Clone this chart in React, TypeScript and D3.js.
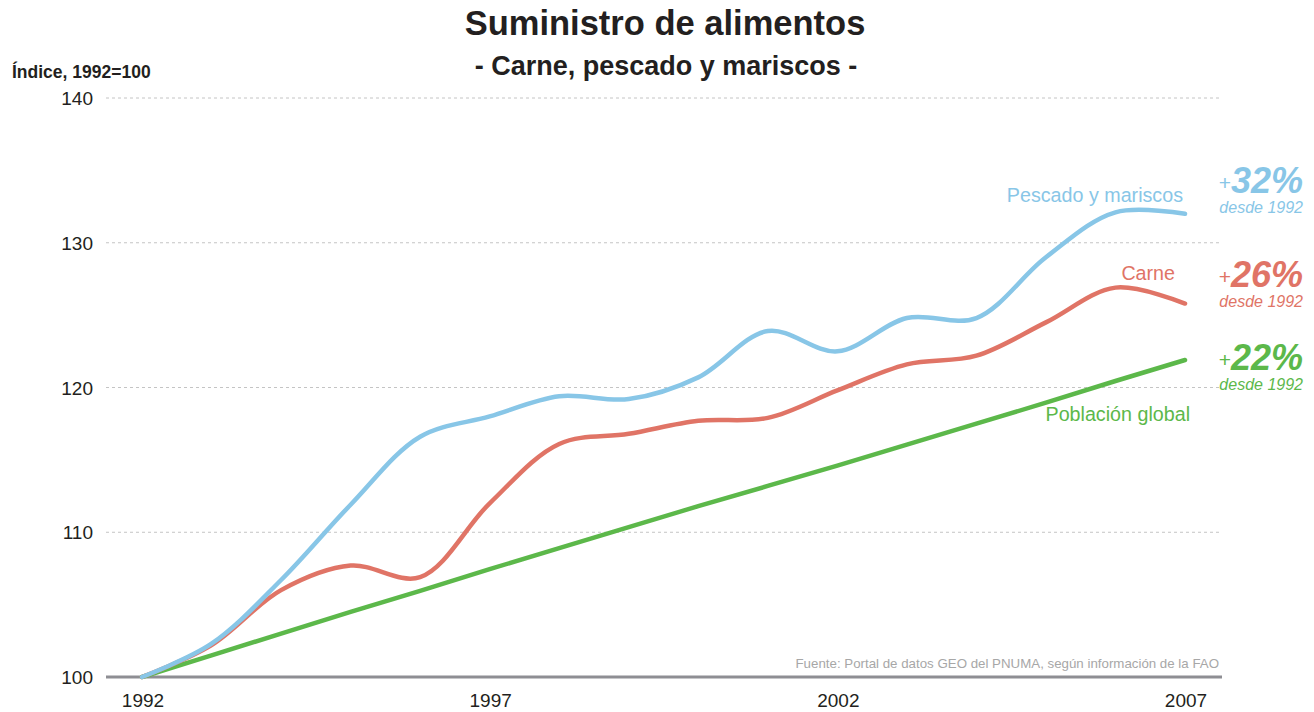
import React from "react";
import * as d3 from "d3";

const years = [1992, 1993, 1994, 1995, 1996, 1997, 1998, 1999, 2000, 2001, 2002, 2003, 2004, 2005, 2006, 2007];
const pescado = [100, 102.3, 106.7, 111.9, 116.6, 118.0, 119.4, 119.2, 120.7, 123.9, 122.5, 124.8, 124.8, 129.0, 132.1, 132.0];
const carne = [100, 102.2, 106.0, 107.7, 106.9, 112.0, 116.1, 116.8, 117.7, 117.9, 119.8, 121.6, 122.2, 124.5, 126.9, 125.8];
const poblacion = [100, 101.5, 103.0, 104.5, 105.95, 107.45, 108.9, 110.35, 111.8, 113.2, 114.6, 116.05, 117.5, 118.95, 120.45, 121.9];
const yTicks = [100, 110, 120, 130, 140];
const xTicks = [1992, 1997, 2002, 2007];

const FONT = "'Liberation Sans', Arial, sans-serif";
const BLUE = "#88c6e7";
const RED = "#e07466";
const GREEN = "#5cb84a";
const INK = "#231f20";

export default function App() {
  const x = d3.scaleLinear().domain([1992, 2007]).range([142, 1185]);
  const y = d3.scaleLinear().domain([100, 140]).range([677, 98]);
  const line = (vals: number[], curve: any) =>
    d3
      .line<number>()
      .x((_, i) => x(years[i]))
      .y((v) => y(v))
      .curve(curve)(vals) || "";

  const series = [
    { vals: poblacion, color: GREEN, curve: d3.curveLinear },
    { vals: carne, color: RED, curve: d3.curveCatmullRom.alpha(0.5) },
    { vals: pescado, color: BLUE, curve: d3.curveCatmullRom.alpha(0.5) },
  ];

  const pct = [
    { c: BLUE, v: "32%", yb: 193 },
    { c: RED, v: "26%", yb: 287 },
    { c: GREEN, v: "22%", yb: 370 },
  ];

  return (
    <svg
      width={1314}
      height={712}
      style={{ position: "absolute", left: 0, top: 0, background: "#fff", fontFamily: FONT }}
    >
      <text x={665} y={35} textAnchor="middle" fontSize={34.5} fontWeight="bold" fill={INK}>
        Suministro de alimentos
      </text>
      <text x={666} y={75} textAnchor="middle" fontSize={27} fontWeight="bold" fill={INK}>
        - Carne, pescado y mariscos -
      </text>
      <text x={12} y={78} fontSize={17.5} fontWeight="bold" fill={INK}>
        Índice, 1992=100
      </text>

      {yTicks.map((t) => (
        <g key={t}>
          {t !== 100 && (
            <line
              x1={106}
              x2={1222}
              y1={y(t)}
              y2={y(t)}
              stroke="#c4c4c4"
              strokeWidth={1}
              strokeDasharray="3,3"
            />
          )}
          <text x={93} y={y(t) + 7} textAnchor="end" fontSize={19} fill={INK}>
            {t}
          </text>
        </g>
      ))}
      <line x1={106} x2={1222} y1={y(100)} y2={y(100)} stroke="#8e8e93" strokeWidth={3} />

      {xTicks.map((t) => (
        <text key={t} x={x(t) + 1} y={707} textAnchor="middle" fontSize={19} fill={INK}>
          {t}
        </text>
      ))}

      <text x={1219} y={668} textAnchor="end" fontSize={13.3} fill="#a7a7a7">
        Fuente: Portal de datos GEO del PNUMA, según información de la FAO
      </text>

      {series.map((s, i) => (
        <path
          key={i}
          d={line(s.vals, s.curve)}
          fill="none"
          stroke={s.color}
          strokeWidth={4.5}
          strokeLinecap="round"
          strokeLinejoin="round"
        />
      ))}

      <text x={1183} y={202} textAnchor="end" fontSize={19.7} fill={BLUE}>
        Pescado y mariscos
      </text>
      <text x={1175} y={280} textAnchor="end" fontSize={19.7} fill={RED}>
        Carne
      </text>
      <text x={1190} y={421} textAnchor="end" fontSize={19.7} fill={GREEN}>
        Población global
      </text>

      {pct.map((p) => (
        <g key={p.v}>
          <text x={1303} y={p.yb} textAnchor="end" fill={p.c}>
            <tspan fontSize={21} dy={-3}>+</tspan>
            <tspan fontSize={36} fontWeight="bold" fontStyle="italic" dy={3}>
              {p.v}
            </tspan>
          </text>
          <text x={1303} y={p.yb + 20} textAnchor="end" fontSize={16} fontStyle="italic" fill={p.c}>
            desde 1992
          </text>
        </g>
      ))}
    </svg>
  );
}
